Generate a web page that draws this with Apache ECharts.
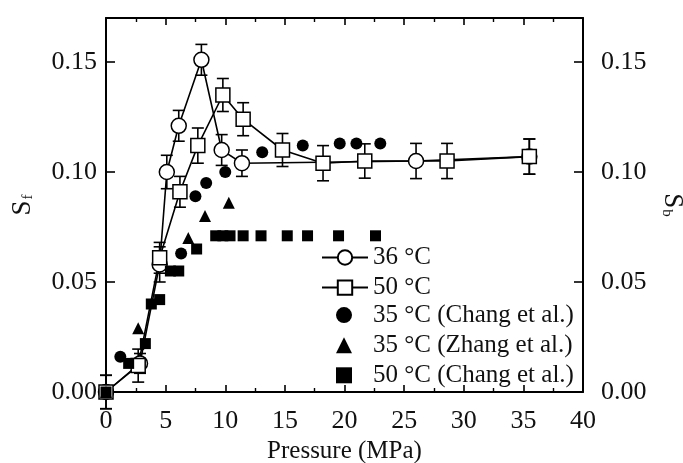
<!DOCTYPE html>
<html>
<head>
<meta charset="utf-8">
<script src="https://cdn.jsdelivr.net/npm/echarts@6/dist/echarts.min.js"></script>
<style>html,body{margin:0;padding:0;background:#fff}#c{width:683px;height:463px}</style>
</head>
<body>
<div id="c"></div>
<script>
// ---- data ----
var p36 = [0, 2.85, 4.5, 5.1, 6.1, 8.0, 9.7, 11.4, 26.0, 35.5];
var s36 = [0, 0.013, 0.058, 0.100, 0.121, 0.151, 0.110, 0.104, 0.105, 0.107];
var e36 = [0.0076, 0.0045, 0.008, 0.0076, 0.007, 0.007, 0.007, 0.006, 0.008, 0.008];

var p50 = [0, 2.7, 4.5, 6.2, 7.7, 9.8, 11.5, 14.8, 18.2, 21.7, 28.6, 35.5];
var s50 = [0, 0.012, 0.061, 0.091, 0.112, 0.135, 0.124, 0.110, 0.104, 0.105, 0.105, 0.107];
var e50 = [0.0076, 0.0075, 0.007, 0.007, 0.008, 0.0075, 0.0075, 0.0075, 0.008, 0.0078, 0.008, 0.008];

var pChang35 = [1.2, 6.3, 7.5, 8.4, 10.0, 13.1, 16.5, 19.6, 21.0, 23.0];
var sChang35 = [0.016, 0.063, 0.089, 0.095, 0.100, 0.109, 0.112, 0.113, 0.113, 0.113];

var pZhang35 = [0, 2.7, 6.9, 8.3, 10.3];
var sZhang35 = [0, 0.029, 0.070, 0.080, 0.086];

var pChang50 = [0, 1.9, 3.3, 3.8, 4.5, 5.4, 6.1, 7.6, 9.2, 9.8, 10.4, 11.5, 13.0, 15.2, 16.9, 19.5, 22.6];
var sChang50 = [0, 0.013, 0.022, 0.040, 0.042, 0.055, 0.055, 0.065, 0.071, 0.071, 0.071, 0.071, 0.071, 0.071, 0.071, 0.071, 0.071];

var xTicks = [0, 5, 10, 15, 20, 25, 30, 35, 40];
var yTicks = [0, 0.05, 0.10, 0.15];
var seriesNames = ['36 °C', '50 °C', '35 °C (Chang et al.)', '35 °C (Zhang et al.)', '50 °C (Chang et al.)'];

// ---- helpers ----
function pairs(xs, ys) { return xs.map(function (x, i) { return [x, ys[i]]; }); }
function errData(xs, ys, es) { return xs.map(function (x, i) { return [x, ys[i] - es[i], ys[i] + es[i]]; }); }
function errRender(params, api) {
  var lo = api.coord([api.value(0), api.value(1)]);
  var hi = api.coord([api.value(0), api.value(2)]);
  var w = 6;
  var st = { stroke: '#000', lineWidth: 1.6 };
  return {
    type: 'group',
    children: [
      { type: 'line', shape: { x1: lo[0], y1: lo[1], x2: hi[0], y2: hi[1] }, style: st },
      { type: 'line', shape: { x1: lo[0] - w, y1: lo[1], x2: lo[0] + w, y2: lo[1] }, style: st },
      { type: 'line', shape: { x1: hi[0] - w, y1: hi[1], x2: hi[0] + w, y2: hi[1] }, style: st }
    ]
  };
}

var FONT = 'Liberation Serif';
var chart = echarts.init(document.getElementById('c'), null, { renderer: 'canvas' });

var xBase = {
  type: 'value', min: 0, max: 40, interval: 5,
  axisLine: { show: true, onZero: false, lineStyle: { color: '#000', width: 2 } },
  axisTick: { show: true, inside: true, length: 7, lineStyle: { color: '#000', width: 1.6 } },
  minorTick: { show: true, splitNumber: 2, length: 4, lineStyle: { color: '#000', width: 1.4 } },
  splitLine: { show: false }
};
var yBase = {
  type: 'value', min: 0, max: 0.17, interval: 0.05,
  axisLine: { show: true, onZero: false, lineStyle: { color: '#000', width: 2 } },
  axisTick: { show: true, inside: true, length: 9, customValues: yTicks, lineStyle: { color: '#000', width: 1.6 } },
  splitLine: { show: false }
};
var legendText = { fontFamily: FONT, fontSize: 25, color: '#111' };

var option = {
  animation: false,
  backgroundColor: '#fff',
  textStyle: { fontFamily: FONT },
  grid: { left: 106, right: 100, top: 18, bottom: 71, containLabel: false, outerBoundsMode: 'none' },
  xAxis: [
    Object.assign({}, xBase, {
      position: 'bottom',
      name: 'Pressure (MPa)', nameLocation: 'middle', nameGap: 41,
      nameTextStyle: { fontFamily: FONT, fontSize: 25, color: '#111' },
      axisLabel: { show: true, customValues: xTicks, margin: 16, fontFamily: FONT, fontSize: 26, color: '#111' }
    }),
    Object.assign({}, xBase, { position: 'top', axisLabel: { show: false } })
  ],
  yAxis: [
    Object.assign({}, yBase, {
      position: 'left',
      name: '{s|S}{f|f}', nameLocation: 'middle', nameGap: 70, nameRotate: 90,
      nameTextStyle: {
        color: '#111',
        rich: {
          s: { fontFamily: FONT, fontSize: 27, color: '#111' },
          f: { fontFamily: FONT, fontSize: 15, color: '#111', verticalAlign: 'bottom', padding: [10, 0, 0, 1] }
        }
      },
      axisLabel: { show: true, customValues: yTicks, margin: 9, fontFamily: FONT, fontSize: 26, color: '#111',
        formatter: function (v) { return v.toFixed(2); } }
    }),
    Object.assign({}, yBase, {
      position: 'right',
      name: '{s|S}{f|b}', nameLocation: 'middle', nameGap: 76, nameRotate: -90,
      nameTextStyle: {
        color: '#111',
        rich: {
          s: { fontFamily: FONT, fontSize: 27, color: '#111' },
          f: { fontFamily: FONT, fontSize: 15, color: '#111', verticalAlign: 'bottom', padding: [10, 0, 0, 1] }
        }
      },
      axisLabel: { show: true, customValues: yTicks, margin: 18, fontFamily: FONT, fontSize: 26, color: '#111',
        formatter: function (v) { return v.toFixed(2); } }
    })
  ],
  legend: [
    {
      orient: 'vertical', left: 316, top: 240,
      itemWidth: 46, itemHeight: 18, itemGap: 5.1,
      data: seriesNames.slice(0, 2),
      textStyle: legendText,
      selectedMode: false
    },
    {
      orient: 'vertical', left: 331, top: 297.6,
      itemWidth: 16, itemHeight: 16, itemGap: 5.1,
      data: seriesNames.slice(2),
      textStyle: Object.assign({}, legendText, { padding: [0, 0, 0, 16] }),
      selectedMode: false
    }
  ],
  series: [
    { type: 'custom', name: 'err36', renderItem: errRender, data: errData(p36, s36, e36), z: 1, silent: true },
    { type: 'custom', name: 'err50', renderItem: errRender, data: errData(p50, s50, e50), z: 1, silent: true },
    {
      type: 'line', name: seriesNames[0], data: pairs(p36, s36), z: 3,
      symbol: 'circle', symbolSize: 15, showAllSymbol: true,
      lineStyle: { color: '#000', width: 1.6 },
      itemStyle: { color: '#fff', borderColor: '#000', borderWidth: 1.5 }
    },
    {
      type: 'line', name: seriesNames[1], data: pairs(p50, s50), z: 3,
      symbol: 'rect', symbolSize: 14, showAllSymbol: true,
      lineStyle: { color: '#000', width: 1.6 },
      itemStyle: { color: '#fff', borderColor: '#000', borderWidth: 1.5 }
    },
    {
      type: 'scatter', name: seriesNames[2], data: pairs(pChang35, sChang35), z: 4,
      symbol: 'circle', symbolSize: 12,
      itemStyle: { color: '#000', opacity: 1 }
    },
    {
      type: 'scatter', name: seriesNames[3], data: pairs(pZhang35, sZhang35), z: 4,
      symbol: 'triangle', symbolSize: 12,
      itemStyle: { color: '#000', opacity: 1 }
    },
    {
      type: 'scatter', name: seriesNames[4], data: pairs(pChang50, sChang50), z: 4,
      symbol: 'rect', symbolSize: 11,
      itemStyle: { color: '#000', opacity: 1 }
    }
  ]
};
chart.setOption(option);
</script>
</body>
</html>
